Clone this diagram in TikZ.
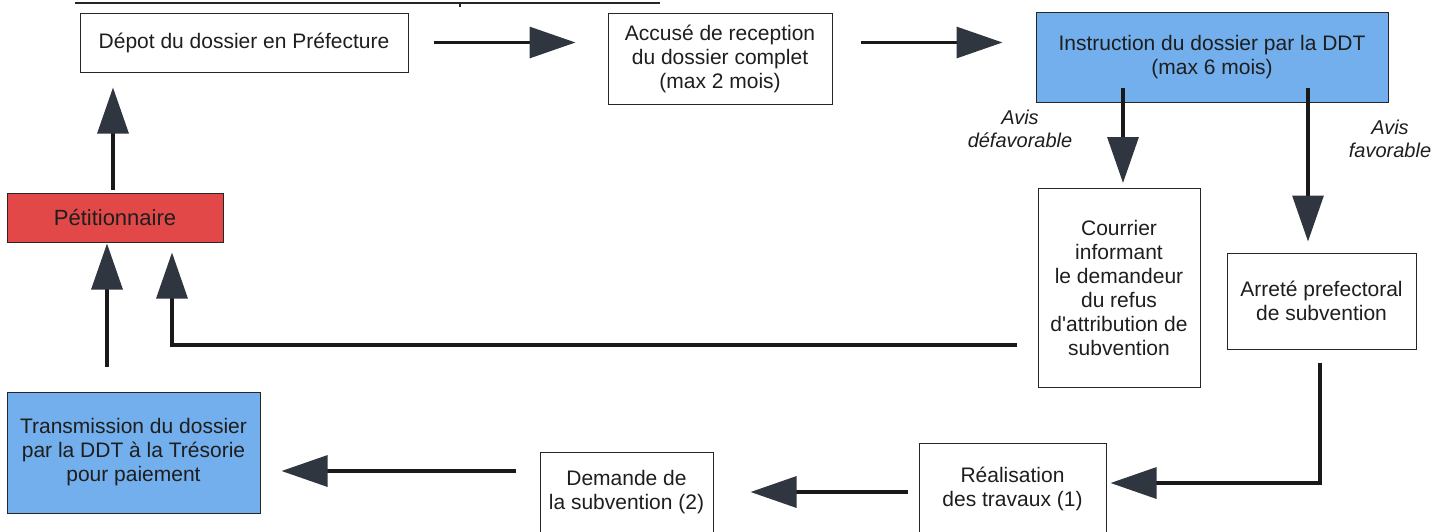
\documentclass[tikz,border=0pt]{standalone}
\usepackage{fontspec}
\setmainfont{Liberation Sans}
\usetikzlibrary{arrows.meta,calc}
\definecolor{boxblue}{HTML}{72AFEC}
\definecolor{boxred}{HTML}{E24848}
\definecolor{tipgrey}{HTML}{30363F}
\definecolor{inkgrey}{HTML}{1E1E1E}
\begin{document}
\begin{tikzpicture}[x=1pt,y=-1pt,
  font=\fontsize{21}{24}\selectfont,
  box/.style={draw=black!85, line width=1pt, text=inkgrey, align=center, inner sep=0pt},
  arr/.style={line width=3.2pt, draw=black!90, -{Triangle[length=46pt,width=31pt,color=tipgrey]}},
  avis/.style={align=center, font=\fontsize{20}{23}\selectfont\itshape, text=inkgrey}]
\useasboundingbox (0,0) rectangle (1455,531);
% underline of a cut-off title
\draw[line width=2pt, black!85] (75,3) -- (660,3);
\draw[line width=2pt, black!85] (460,2) -- (460,7);
% boxes
\node[box, minimum width=328pt, minimum height=59pt] (depot) at (244,42.5) {Dépot du dossier en Préfecture};
\node[box, minimum width=224pt, minimum height=91pt] (accuse) at (720,58.5) {Accusé de reception\\du dossier complet\\(max 2 mois)};
\node[box, fill=boxblue, minimum width=352pt, minimum height=90pt] (instr) at (1212,57) {Instruction du dossier par la DDT\\(max 6 mois)};
\node[box, minimum width=162pt, minimum height=199pt] (courrier) at (1119,288) {Courrier\\informant\\le demandeur\\du refus\\d\textquotesingle attribution de\\subvention};
\node[box, minimum width=189pt, minimum height=96pt] (arrete) at (1321.5,301) {Arreté prefectoral\\de subvention};
\node[box, minimum width=187pt, minimum height=92pt] (real) at (1012.5,489) {Réalisation\\des travaux (1)};
\node[box, minimum width=173pt, minimum height=80pt] (demande) at (626.5,492) {Demande de\\la subvention (2)};
\node[box, fill=boxblue, minimum width=253pt, minimum height=121pt] (trans) at (133.5,452.5) {Transmission du dossier\\par la DDT à la Trésorie\\pour paiement};
\node[box, fill=boxred, minimum width=216pt, minimum height=49pt, font=\fontsize{22}{24}\selectfont] (petit) at (115,217.5) {Pétitionnaire};
% labels
\node[avis] (avisd) at (1020,129) {Avis\\défavorable};
\node[avis] (avisf) at (1390,139) {Avis\\favorable};
% connectors
\draw[arr, shorten <=25pt, shorten >=32pt] (depot.east) -- (depot.east -| accuse.west);
\draw[arr, shorten <=28pt, shorten >=33pt] (accuse.east |- depot.east) -- (instr.west |- depot.east);
\draw[arr] ([xshift=-89pt,yshift=15pt]instr.south) -- ([xshift=4pt,yshift=5pt]courrier.north);
\draw[arr] ([xshift=96pt,yshift=15pt]instr.south) -- ([xshift=-13.5pt,yshift=11pt]arrete.north);
\draw[arr] ([xshift=-1.5pt,yshift=-13pt]arrete.south) |- ([xshift=4pt,yshift=6pt]real.east);
\draw[arr, shorten <=11pt, shorten >=37pt] ([yshift=-3pt]real.west) -- ([yshift=-3pt]real.west -| demande.east);
\draw[arr] ([xshift=-24pt,yshift=21pt]demande.west) -- ([xshift=21pt,yshift=-18.5pt]trans.east);
\draw[arr] ([xshift=-26.5pt,yshift=25pt]trans.north) -- ([xshift=-8pt,yshift=-1pt]petit.south);
\draw[arr] ([xshift=-21pt,yshift=-57pt]courrier.west) -| ([xshift=57pt,yshift=-10pt]petit.south);
\draw[arr] ([xshift=-2pt,yshift=3pt]petit.north) -- ([xshift=-131pt,yshift=-15pt]depot.south);
\end{tikzpicture}
\end{document}
